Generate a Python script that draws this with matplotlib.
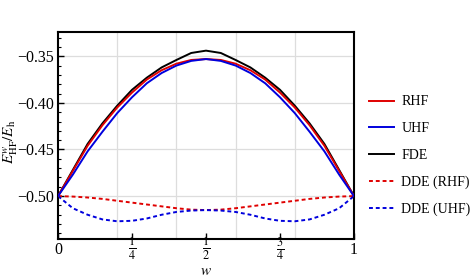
import numpy as np
import matplotlib
matplotlib.use("Agg")
from matplotlib import pyplot as plt
from matplotlib.ticker import MultipleLocator, FixedLocator, FixedFormatter

plt.rcParams['font.family'] = ['Liberation Serif', 'DejaVu Serif']
plt.rcParams['mathtext.fontset'] = 'stix'

# weights w, 0 .. 1 in steps of 0.05
w = np.linspace(0, 1, 21)
half_fde = [-0.500, -0.472, -0.444, -0.422, -0.403, -0.386, -0.373, -0.362, -0.354, -0.3465, -0.344]
half_rhf = [-0.500, -0.473, -0.446, -0.424, -0.405, -0.389, -0.375, -0.365, -0.358, -0.354, -0.353]
half_uhf = [-0.500, -0.477, -0.452, -0.431, -0.411, -0.394, -0.379, -0.368, -0.360, -0.355, -0.353]
half_dde_rhf = [-0.500, -0.5005, -0.5015, -0.503, -0.505, -0.507, -0.509, -0.511, -0.513, -0.5145, -0.515]
half_dde_uhf = [-0.500, -0.513, -0.520, -0.525, -0.527, -0.5265, -0.524, -0.520, -0.517, -0.5155, -0.515]

x_end_ticks = [0, 1]
x_end_labels = ['0', '1']
x_frac_ticks = [0.25, 0.5, 0.75]
x_frac_labels = [r'$\frac{1}{4}$', r'$\frac{1}{2}$', r'$\frac{3}{4}$']
y_ticks = [-0.50, -0.45, -0.40, -0.35]
y_labels = ['\u22120.50', '\u22120.45', '\u22120.40', '\u22120.35']

def mirror(h):
    return np.array(h + h[-2::-1])

fde = mirror(half_fde)
rhf = mirror(half_rhf)
uhf = mirror(half_uhf)
dde_rhf = mirror(half_dde_rhf)
dde_uhf = mirror(half_dde_uhf)

fig = plt.figure(figsize=(4.74, 2.78), dpi=100)
ax = fig.add_axes([0.1224, 0.1403, 0.6244, 0.7446])

ax.plot(w, rhf, color='#e00000', lw=1.4, label='RHF', zorder=3)
ax.plot(w, uhf, color='#0000dd', lw=1.4, label='UHF', zorder=3)
ax.plot(w, fde, color='black', lw=1.4, label='FDE', zorder=2)
ax.plot(w, dde_rhf, color='#e00000', lw=1.4, ls=(0, (2, 1.5)), label='DDE (RHF)')
ax.plot(w, dde_uhf, color='#0000dd', lw=1.4, ls=(0, (2, 1.5)), label='DDE (UHF)')

ax.set_xlim(0, 1)
ax.set_ylim(-0.546, -0.324)

# fractions on minor ticks so they can get their own size and pad
ax.xaxis.set_major_locator(FixedLocator(x_end_ticks))
ax.xaxis.set_major_formatter(FixedFormatter(x_end_labels))
ax.xaxis.set_minor_locator(FixedLocator(x_frac_ticks))
ax.xaxis.set_minor_formatter(FixedFormatter(x_frac_labels))
ax.set_yticks(y_ticks)
ax.set_yticklabels(y_labels)
ax.yaxis.set_minor_locator(MultipleLocator(0.01))

for g in [0.2, 0.4, 0.6, 0.8]:
    ax.axvline(g, color='#dddddd', lw=0.9, zorder=0)
for g in y_ticks:
    ax.axhline(g, color='#dddddd', lw=0.9, zorder=0)

ax.tick_params(axis='both', direction='in', labelsize=11.5, length=4, width=1, pad=3)
ax.tick_params(axis='x', pad=2)
ax.tick_params(axis='x', which='minor', direction='in', length=4, width=1,
               labelsize=12.5, pad=-2.5)
ax.tick_params(axis='y', which='minor', direction='in', length=2.5, width=0.8)
for s in ax.spines.values():
    s.set_linewidth(1.5)

ax.set_xlabel(r'$w$', fontsize=11)
ax.xaxis.set_label_coords(0.5, -0.125)
ax.set_ylabel(r'$E^{w}_{\mathrm{HF}}/E_{\mathrm{h}}$', fontsize=11)
ax.yaxis.set_label_coords(-0.13, 0.47)

ax.legend(loc='center left', bbox_to_anchor=(1.01, 0.403), frameon=False,
          fontsize=10, handlelength=1.8, handletextpad=0.5, labelspacing=0.98)

fig.savefig('out.png', dpi=100)
